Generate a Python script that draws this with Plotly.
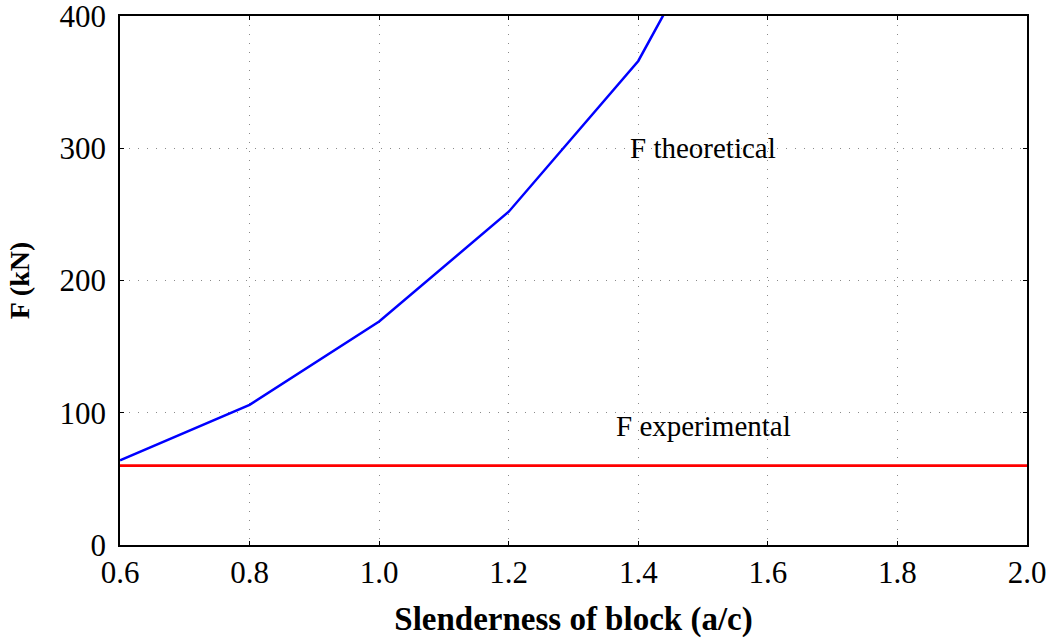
import plotly.graph_objects as go

# Data
slenderness = [0.6, 0.8, 1.0, 1.2, 1.4, 1.6]
f_theoretical = [64, 106, 169, 252, 366, 545]
exp_x = [0.6, 2.0]
f_experimental = [60, 60]

label_theoretical = "F theoretical"
label_experimental = "F experimental"
label_pos_x = 1.5
label_theo_y = 300
label_exp_y = 90

x_ticks = [0.6, 0.8, 1.0, 1.2, 1.4, 1.6, 1.8, 2.0]
y_ticks = [0, 100, 200, 300, 400]

FONT = "Liberation Serif"

fig = go.Figure()
fig.add_trace(go.Scatter(x=slenderness, y=f_theoretical, mode="lines",
                         line=dict(color="#0000ff", width=2.5),
                         name=label_theoretical, showlegend=False))
fig.add_trace(go.Scatter(x=exp_x, y=f_experimental, mode="lines",
                         line=dict(color="#ff0000", width=2.8),
                         name=label_experimental, showlegend=False))

fig.add_annotation(x=label_pos_x, y=label_theo_y, text=label_theoretical,
                   showarrow=False, font=dict(family=FONT, size=29, color="black"))
fig.add_annotation(x=label_pos_x, y=label_exp_y, text=label_experimental,
                   showarrow=False, font=dict(family=FONT, size=29, color="black"))

axis_common = dict(
    showline=True, linecolor="black", linewidth=1.5, mirror="ticks",
    ticks="inside", ticklen=4, tickcolor="black", tickwidth=1,
    showgrid=True, gridcolor="#8a8a8a", griddash="1px,8px", gridwidth=1,
    zeroline=False, automargin=False, ticklabeloverflow="allow",
    tickfont=dict(family=FONT, size=31, color="black"),
)

fig.update_xaxes(
    range=[0.6, 2.0], tickvals=x_ticks,
    ticktext=[f"{v:.1f}" for v in x_ticks],
    title=dict(text="<b>Slenderness of block (a/c)</b>",
               font=dict(family=FONT, size=33, color="black"), standoff=18),
    ticklabelstandoff=-1,
    **axis_common,
)
fig.update_yaxes(
    range=[0, 400], tickvals=y_ticks,
    title=dict(text="<b>F (kN)</b>",
               font=dict(family=FONT, size=28, color="black"), standoff=22),
    ticklabelstandoff=6,
    **axis_common,
)

fig.update_layout(
    width=1051, height=640,
    margin=dict(l=120, r=24, t=16, b=95),
    plot_bgcolor="white", paper_bgcolor="white",
    showlegend=False,
)

fig.write_html("out.html", config={"displayModeBar": False},
               post_script="document.body.style.margin='0';")
